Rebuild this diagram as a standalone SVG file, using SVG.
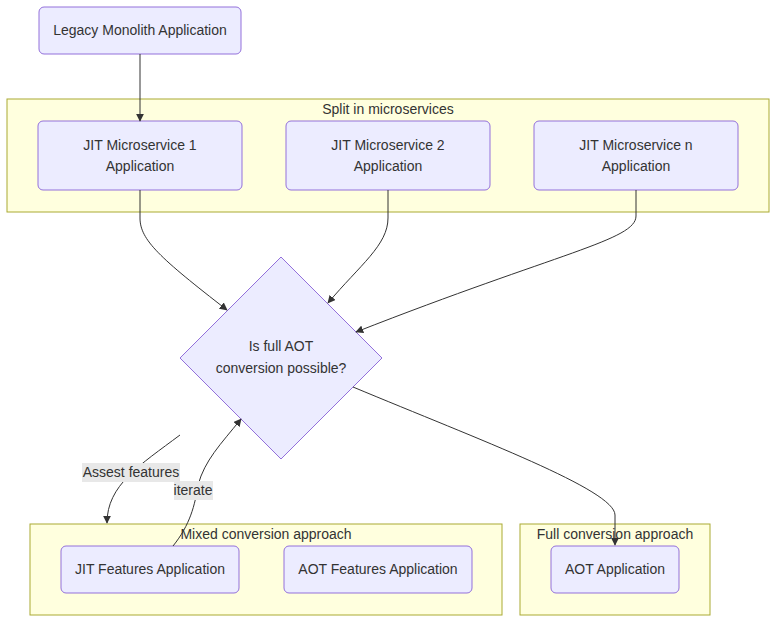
<svg xmlns="http://www.w3.org/2000/svg" width="784" height="630" viewBox="0 0 784 630">
<defs>
<marker id="arr" viewBox="0 0 10 10" refX="9" refY="5" markerWidth="8" markerHeight="8" markerUnits="userSpaceOnUse" orient="auto">
<path d="M0,0 L10,5 L0,10 z" fill="#333"/>
</marker>
<style>
.node{fill:#ececff;stroke:#9370db;stroke-width:1}
.cluster{fill:#ffffde;stroke:#aaaa33;stroke-width:1}
text{font-family:"Liberation Sans",Arial,sans-serif;font-size:14px;fill:#333;text-anchor:middle;dominant-baseline:central}
.edge{fill:none;stroke:#333;stroke-width:1;marker-end:url(#arr)}
.lbl{fill:#e8e8e8}
</style>
</defs>
<rect width="784" height="630" fill="#fff"/>
<g id="cluster-split">
<rect class="cluster" x="7" y="99" width="762" height="113"/>
<text x="388" y="109">Split in microservices</text>
</g>
<g id="cluster-mixed">
<rect class="cluster" x="30" y="524" width="472" height="91"/>
<text x="266" y="534">Mixed conversion approach</text>
</g>
<g id="cluster-full">
<rect class="cluster" x="520" y="524" width="190" height="91"/>
<text x="615" y="534">Full conversion approach</text>
</g>
<g id="legacy">
<rect class="node" x="39" y="7" width="202" height="47" rx="5"/>
<text x="140" y="30">Legacy Monolith Application</text>
</g>
<g id="ms1">
<rect class="node" x="38" y="121" width="204" height="69" rx="5"/>
<text x="140" y="145">JIT Microservice 1</text>
<text x="140" y="166">Application</text>
</g>
<g id="ms2">
<rect class="node" x="286" y="121" width="204" height="69" rx="5"/>
<text x="388" y="145">JIT Microservice 2</text>
<text x="388" y="166">Application</text>
</g>
<g id="msn">
<rect class="node" x="534" y="121" width="204" height="69" rx="5"/>
<text x="636" y="145">JIT Microservice n</text>
<text x="636" y="166">Application</text>
</g>
<g id="decision">
<polygon class="node" points="281,257 382,358 281,459 180,358"/>
<text x="281" y="346">Is full AOT</text>
<text x="281" y="368">conversion possible?</text>
</g>
<g id="jitfeat">
<rect class="node" x="61" y="546" width="178" height="47" rx="5"/>
<text x="150" y="569">JIT Features Application</text>
</g>
<g id="aotfeat">
<rect class="node" x="284" y="546" width="188" height="47" rx="5"/>
<text x="378" y="569">AOT Features Application</text>
</g>
<g id="aot">
<rect class="node" x="551" y="546" width="128" height="47" rx="5"/>
<text x="615" y="569">AOT Application</text>
</g>
<g id="connectors">
<path class="edge" d="M140,54 L140,121"/>
<path class="edge" d="M140,190 L140,218 C140,240 160,258 227,310"/>
<path class="edge" d="M388,190 L388,218 C388,245 360,265 328,303"/>
<path class="edge" d="M636,190 L636,216 C636,240 560,252 356,332"/>
<path class="edge" d="M353,387 C480,440 615,490 615,515 L615,545"/>
<path class="edge" d="M180,435 C140,465 107,485 107,523"/>
<path class="edge" d="M173,546 C190,525 195,505 198,485 C205,460 220,445 241,419"/>
<rect class="lbl" x="82" y="463" width="98" height="19"/>
<text x="131" y="472">Assest features</text>
<rect class="lbl" x="174" y="481" width="39" height="19"/>
<text x="193" y="490">iterate</text>
</g>
</svg>
